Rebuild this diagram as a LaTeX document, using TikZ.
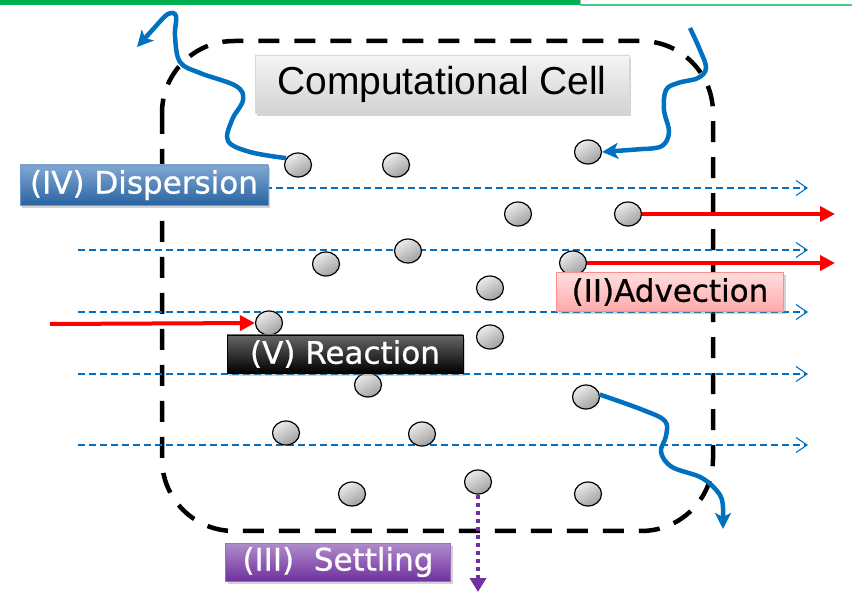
\documentclass[tikz,border=0pt]{standalone}
\usepackage{fontspec}
\setmainfont{DejaVu Sans}
\newfontfamily\cellfont{Liberation Sans}
\newfontfamily\tagfont[FakeBold=0.8]{DejaVu Sans}
\usetikzlibrary{arrows.meta,shapes.geometric,shadows}
\definecolor{flowblue}{RGB}{0,112,192}
\definecolor{settlepurple}{RGB}{112,48,160}
\definecolor{linegreen}{RGB}{0,176,80}
\definecolor{dispblue}{RGB}{46,110,180}
\definecolor{advpink}{RGB}{255,170,170}
\begin{document}
\begin{tikzpicture}[x=1pt,y=-1pt,
  particle/.style={ellipse,draw,line width=1.2pt,minimum width=27pt,minimum height=24pt,inner sep=0pt,top color=gray!15,bottom color=gray!75,shading angle=30},
  flow/.style={flowblue,line width=1.1pt,dash pattern=on 7pt off 4pt,-{Straight Barb[length=11pt,width=15pt]}},
  advect/.style={red,line width=4pt,-{Triangle[length=15pt,width=15pt]}},
  wiggle/.style={flowblue,line width=4.5pt,-{Stealth[length=16pt,width=16pt,inset=4pt]}},
  tag/.style={inner sep=0pt,font=\tagfont\fontsize{31}{34}\selectfont,text=white,drop shadow={opacity=0.35,shadow xshift=2pt,shadow yshift=-3pt}},
]
\useasboundingbox (0,0) rectangle (852,609);

% top border line
\draw[linegreen,line width=5pt] (0,3) -- (580,3);
\draw[gray!60,line width=1pt] (580,0) -- (580,6);
\draw[linegreen!70,line width=1.5pt] (580,5) -- (852,5);

% cell
\draw[line width=4.5pt,dash pattern=on 21pt off 15pt,rounded corners=72pt] (162,41) rectangle (713,531);

% background flow
\draw[flow] (78,188) -- (808,188);
\foreach \y in {250,312,374,445}
  \draw[flow] (78,\y) -- (808,\y);

% particles
\foreach \i/\x/\y in {1/298/165,2/396/165,3/588/152,4/518/214,5/628/214,6/408/251,
  7/326/264,8/573/263,9/490/288,10/269/323,11/490/337,12/368/385,13/586/397,
  14/286/433,15/422/434,16/352/494,17/478/482,18/588/494}
  \node[particle] (p\i) at (\x,\y) {};

% advection
\coordinate (outA) at (835,214);
\coordinate (outB) at (835,263);
\coordinate (inA) at (50,324);
\draw[advect] (p5.east) -- (outA);
\draw[advect] (p8.east) -- (outB);
\draw[advect] (inA) -- (p10.west);

% dispersion paths
\coordinate (escA) at (137,47);
\coordinate (entB) at (690,28);
\coordinate (escC) at (723,529);
\draw[wiggle] plot[smooth,tension=0.6] coordinates {(p1.150) (250,152) (228,141) (232,120) (243,100) (236,86) (200,73) (180,62) (175,36) (176,16) (168,14) (156,26)} -- (escA);
\draw[wiggle] plot[smooth,tension=0.6] coordinates {(entB) (700,50) (706,68) (698,78) (678,83) (666,90) (664,110) (669,132) (662,146) (643,149)} -- (p3.east);
\draw[wiggle] plot[smooth,tension=0.6] coordinates {(p13.10) (643,410) (665,421) (666,436) (661,452) (672,467) (702,478) (720,495) (723,510)} -- (escC);

% settling
\coordinate (sink) at (478,592);
\draw[settlepurple,line width=4.5pt,dash pattern=on 4.5pt off 3.5pt,-{Triangle[length=14pt,width=16pt]}] (p17.south) -- (sink);

% labels
\node[draw=gray!30,top color=gray!8,bottom color=gray!35,minimum width=374pt,minimum height=58pt,inner sep=0pt,
  font=\cellfont\fontsize{39}{42}\selectfont,drop shadow={opacity=0.35,shadow xshift=2pt,shadow yshift=-3pt}]
  (cell) at (442,84) {Computational Cell};
\node[tag,draw=dispblue!70!white,top color=dispblue!60!white,bottom color=dispblue!90!black,minimum width=248pt,minimum height=40pt]
  (disp) at (144,185) {(IV) Dispersion};
\node[tag,draw=red!45,top color=advpink!40!white,bottom color=advpink,text=black,minimum width=227pt,minimum height=39pt]
  (adv) at (670,292) {(II)Advection};
\node[tag,draw=black,top color=gray!80!black,bottom color=black,minimum width=236pt,minimum height=38pt]
  (react) at (345,354) {(V) Reaction};
\node[tag,draw=settlepurple!70!white,top color=settlepurple!55!white,bottom color=settlepurple,minimum width=225pt,minimum height=38pt]
  (settle) at (338,562) {(III)~ Settling};
\end{tikzpicture}
\end{document}
